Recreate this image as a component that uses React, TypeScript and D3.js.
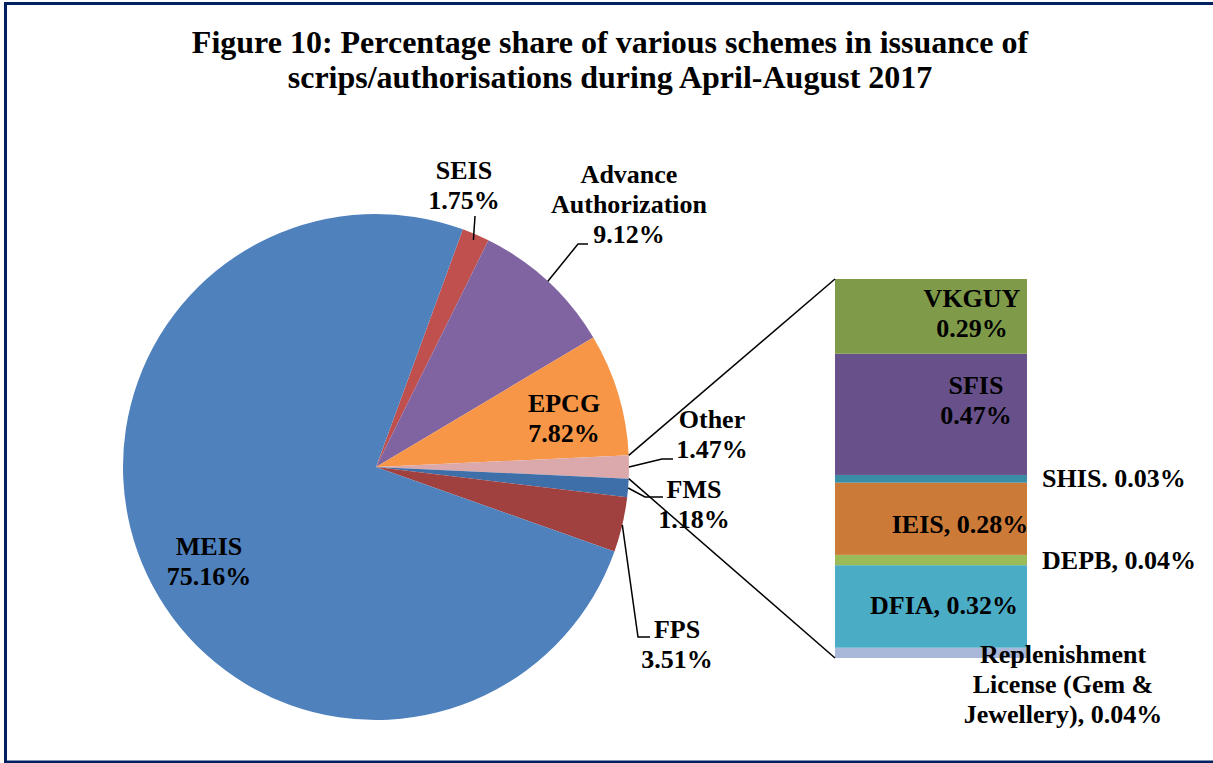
import React, { useEffect, useRef } from "react";
import * as d3 from "d3";

// pie slices, clockwise from SEIS
const pieNames = ["SEIS", "Advance Authorization", "EPCG", "Other", "FMS", "FPS", "MEIS"];
const pieValues = [1.75, 9.12, 7.82, 1.47, 1.18, 3.51, 75.16];
const pieColors = ["#C0504D", "#8064A2", "#F79646", "#DBA9AB", "#3F6FA8", "#A0403F", "#4F81BD"];

// the "Other" slice broken out in the bar, bottom to top
const barNames = ["Replenishment License (Gem & Jewellery)", "DFIA", "DEPB", "IEIS", "SHIS", "SFIS", "VKGUY"];
const barValues = [0.04, 0.32, 0.04, 0.28, 0.03, 0.47, 0.29];
const barColors = ["#A9B8D9", "#4BACC6", "#9BBB59", "#CC7A38", "#3B8DA5", "#68518A", "#7F9B4A"];

const title = [
  "Figure 10: Percentage share of various schemes in issuance of",
  "scrips/authorisations during April-August 2017",
];

// label text lines + placement (center x, first baseline)
const pieLabels = [
  { lines: ["SEIS", "1.75%"], x: 464, y: 179, leader: [[475, 216]] },
  { lines: ["Advance", "Authorization", "9.12%"], x: 629, y: 183, leader: [[578, 244], [588, 244]] },
  { lines: ["EPCG", "7.82%"], x: 564, y: 412, leader: null },
  { lines: ["Other", "1.47%"], x: 712, y: 428, leader: [[662, 459], [673, 459]] },
  { lines: ["FMS", "1.18%"], x: 694, y: 498, leader: [[645, 497], [663, 497]] },
  { lines: ["FPS", "3.51%"], x: 677, y: 638, leader: [[638, 637], [650, 637]] },
  { lines: ["MEIS", "75.16%"], x: 209, y: 555, leader: null },
];

const barLabels = [
  { lines: ["Replenishment", "License (Gem &", "Jewellery), 0.04%"], x: 1063, y: 663 },
  { lines: ["DFIA, 0.32%"], x: 944, y: 614 },
  { lines: ["DEPB, 0.04%"], x: 1119, y: 569 },
  { lines: ["IEIS, 0.28%"], x: 960, y: 533 },
  { lines: ["SHIS. 0.03%"], x: 1114, y: 487 },
  { lines: ["SFIS", "0.47%"], x: 976, y: 394 },
  { lines: ["VKGUY", "0.29%"], x: 972, y: 307 },
];

const W = 1213, H = 763;
const font = "'Liberation Serif', 'Times New Roman', serif";

export default function App() {
  const ref = useRef<SVGSVGElement>(null);

  useEffect(() => {
    const svg = d3.select(ref.current);
    svg.selectAll("*").remove();

    // outer frame
    svg.append("rect")
      .attr("x", 5.5).attr("y", 3.5)
      .attr("width", 1230).attr("height", 758.5)
      .attr("fill", "white")
      .attr("stroke", "#002060")
      .attr("stroke-width", 3);

    // title
    svg.append("g").selectAll("text").data(title).join("text")
      .attr("x", 610)
      .attr("y", (d, i) => 53 + i * 35)
      .attr("text-anchor", "middle")
      .style("font-family", font)
      .style("font-weight", "bold")
      .style("font-size", "32px")
      .text(d => d);

    // pie
    const cx = 376, cy = 467, r = 253;
    const total = d3.sum(pieValues);
    const otherIdx = pieNames.indexOf("Other");
    // rotate so the Other slice is centred at 3 o'clock
    const before = d3.sum(pieValues.slice(0, otherIdx)) + pieValues[otherIdx] / 2;
    const start = Math.PI / 2 - (before / total) * 2 * Math.PI;

    const pie = d3.pie<number>().sort(null).value(d => d)
      .startAngle(start).endAngle(start + 2 * Math.PI);
    const arcs = pie(pieValues);
    const arc = d3.arc<d3.PieArcDatum<number>>().innerRadius(0).outerRadius(r);

    const g = svg.append("g").attr("transform", `translate(${cx},${cy})`);
    g.selectAll("path").data(arcs).join("path")
      .attr("d", arc)
      .attr("fill", (d, i) => pieColors[i]);

    // bar of the Other slice
    const barX = 835, barW = 192;
    const y = d3.scaleLinear().domain([0, d3.sum(barValues)]).range([658, 279]);
    const tops = Array.from(d3.cumsum(barValues));
    svg.append("g").selectAll("rect").data(barValues).join("rect")
      .attr("x", barX)
      .attr("width", barW)
      .attr("y", (d, i) => y(tops[i]))
      .attr("height", (d, i) => y(tops[i] - d) - y(tops[i]))
      .attr("fill", (d, i) => barColors[i]);

    // connector lines from Other slice to the bar
    const oa = arcs[otherIdx];
    const pt = (a: number, rr: number) => [cx + rr * Math.sin(a), cy - rr * Math.cos(a)];
    const [ax, ay] = pt(oa.startAngle, r);
    const [bx, by] = pt(oa.endAngle, r);
    svg.append("line").attr("x1", ax).attr("y1", ay).attr("x2", barX).attr("y2", y(d3.sum(barValues)))
      .attr("stroke", "black").attr("stroke-width", 1.5);
    svg.append("line").attr("x1", bx).attr("y1", by).attr("x2", barX).attr("y2", y(0))
      .attr("stroke", "black").attr("stroke-width", 1.5);

    // leader lines
    pieLabels.forEach((lab, i) => {
      if (!lab.leader) return;
      const mid = (arcs[i].startAngle + arcs[i].endAngle) / 2;
      const p0 = pt(mid, lab.lines[0] === "SEIS" ? r - 6 : r);
      const pts = [p0, ...lab.leader];
      svg.append("path")
        .attr("d", d3.line()(pts as [number, number][]))
        .attr("fill", "none")
        .attr("stroke", "black")
        .attr("stroke-width", 1.5);
    });

    // labels
    const drawLabel = (lab: { lines: string[]; x: number; y: number }) => {
      const t = svg.append("text")
        .attr("text-anchor", "middle")
        .style("font-family", font)
        .style("font-weight", "bold")
        .style("font-size", "26px");
      lab.lines.forEach((line, k) => {
        t.append("tspan").attr("x", lab.x).attr("y", lab.y + k * 30).text(line);
      });
    };
    pieLabels.forEach(drawLabel);
    barLabels.forEach(drawLabel);
  }, []);

  return (
    <svg ref={ref} width={W} height={H}
      style={{ position: "absolute", left: 0, top: 0, background: "white" }} />
  );
}
